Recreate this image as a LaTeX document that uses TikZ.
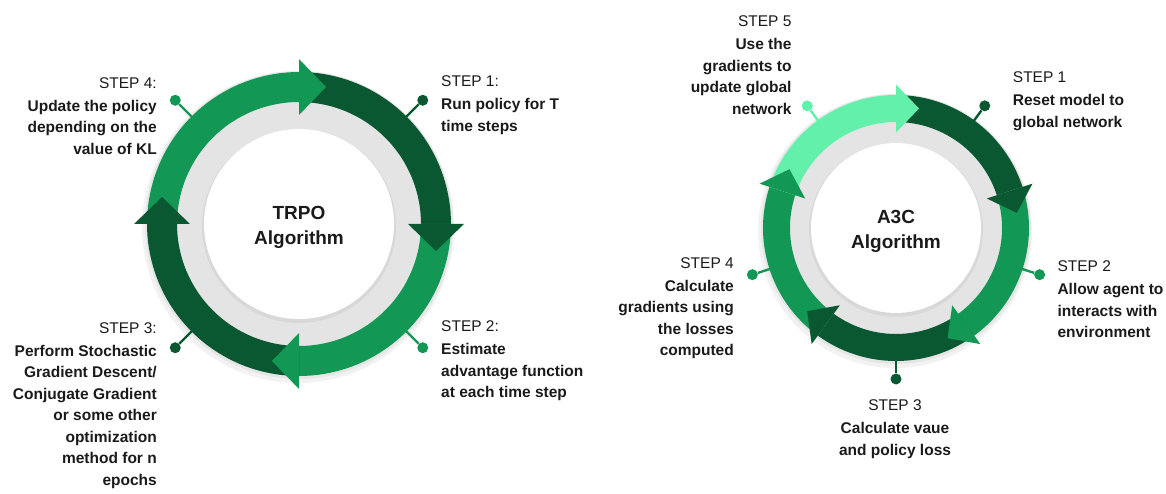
\documentclass[tikz,border=0pt]{standalone}
\usepackage{fontspec}
\setmainfont{Liberation Sans}
\usetikzlibrary{calc}

\definecolor{dkgreen}{HTML}{0A5832}
\definecolor{mdgreen}{HTML}{129854}
\definecolor{mintgreen}{HTML}{62F0AA}
\definecolor{ringgray}{HTML}{E4E4E4}
\definecolor{txtblack}{HTML}{1A1A1A}

\tikzset {
    steptxt/.style={inner sep=0pt, text=txtblack, font=\fontsize{15.5}{21.5}\selectfont\bfseries},
    algtxt/.style={inner sep=0pt, text=txtblack, align=center, font=\fontsize{19}{25}\selectfont\bfseries},
    pindot/.style={circle, inner sep=0pt, minimum size=11pt},
    pinline/.style={line width=2.4pt},
}

% ring piece: center, inner r, outer r, from, to, colour
\newcommand{\ringseg}[6]{%
    \begin{scope}[shift={(#1)}]
        \fill [#6] plot [domain=#4:#5, samples=40] (\x:#3)
            -- plot [domain=#5:#4, samples=40] (\x:#2) -- cycle;
    \end{scope}}
% arrow head: center, mid r, angle, half width, length, colour
\newcommand{\ringhead}[6]{%
    \begin{scope}[shift={(#1)}]
        \fill [#6] (#3:#2-#4) -- (#3:#2+#4) -- ($(#3:#2)+(#3+90:#5)$) -- cycle;
    \end{scope}}

\begin{document}
\begin{tikzpicture}[x=1pt, y=-1pt]
    \useasboundingbox (0, 0) rectangle (1166, 494);
    \coordinate (trpo) at (299, 224);
    \coordinate (a3c) at (896, 228);

    % TRPO
    \fill [black, opacity=.05] ($(trpo)+(-1, 3)$) circle (156);
    \fill [black, opacity=.05] ($(trpo)+(0, 1)$) circle (154);
    \fill [ringgray] (trpo) circle (122);
    \fill [black, opacity=.05] ($(trpo)+(0, 2)$) circle (97);
    \fill [white] (trpo) circle (95);
    \ringseg{trpo}{122}{152}{180}{270}{mdgreen}
    \ringseg{trpo}{122}{152}{-90}{0}{dkgreen}
    \ringseg{trpo}{122}{152}{0}{90}{mdgreen}
    \ringseg{trpo}{122}{152}{90}{180}{dkgreen}
    \ringhead{trpo}{137}{270}{28}{27}{mdgreen}
    \ringhead{trpo}{137}{0}{28}{27}{dkgreen}
    \ringhead{trpo}{137}{90}{28}{27}{mdgreen}
    \ringhead{trpo}{137}{180}{28}{27}{dkgreen}
    \node at (299, 206.4) [algtxt, anchor=north] (trponame) {TRPO\\Algorithm};

    \coordinate (p1e) at ($(trpo)+(-45:150)$);
    \coordinate (p2e) at ($(trpo)+(45:150)$);
    \coordinate (p3e) at ($(trpo)+(135:150)$);
    \coordinate (p4e) at ($(trpo)+(225:150)$);
    \node at ($(trpo)+(-45:175)$) [pindot, fill=dkgreen] (p1) {};
    \node at ($(trpo)+(45:175)$) [pindot, fill=mdgreen] (p2) {};
    \node at ($(trpo)+(135:175)$) [pindot, fill=dkgreen] (p3) {};
    \node at ($(trpo)+(225:175)$) [pindot, fill=mdgreen] (p4) {};
    \draw [pinline, dkgreen] (p1e) -- (p1);
    \draw [pinline, mdgreen] (p2e) -- (p2);
    \draw [pinline, dkgreen] (p3e) -- (p3);
    \draw [pinline, mdgreen] (p4e) -- (p4);

    \node at (441, 75.6) [steptxt, anchor=north west, align=left] (s1)
        {{\mdseries STEP 1:}\\[1.5pt]Run policy for T\\time steps};
    \node at (441, 320.6) [steptxt, anchor=north west, align=left] (s2)
        {{\mdseries STEP 2:}\\[1.5pt]Estimate\\advantage function\\at each time step};
    \node at (157, 322.2) [steptxt, anchor=north east, align=right] (s3)
        {{\mdseries STEP 3:}\\[1.5pt]Perform Stochastic\\Gradient Descent/\\Conjugate Gradient\\or some other\\optimization\\method for n\\epochs};
    \node at (157, 77.2) [steptxt, anchor=north east, align=right] (s4)
        {{\mdseries STEP 4:}\\[1.5pt]Update the policy\\depending on the\\value of KL};

    % A3C
    \fill [black, opacity=.05] ($(a3c)+(-1, 3)$) circle (137);
    \fill [black, opacity=.05] ($(a3c)+(0, 1)$) circle (135);
    \fill [ringgray] (a3c) circle (106);
    \fill [black, opacity=.05] ($(a3c)+(0, 2)$) circle (87);
    \fill [white] (a3c) circle (85);
    \ringseg{a3c}{106}{133}{-90}{-18}{dkgreen}
    \ringseg{a3c}{106}{133}{-18}{54}{mdgreen}
    \ringseg{a3c}{106}{133}{54}{126}{dkgreen}
    \ringseg{a3c}{106}{133}{126}{198}{mdgreen}
    \ringseg{a3c}{106}{133}{198}{270}{mintgreen}
    \ringhead{a3c}{119.5}{-18}{24}{23}{dkgreen}
    \ringhead{a3c}{119.5}{54}{24}{23}{mdgreen}
    \ringhead{a3c}{119.5}{126}{24}{23}{dkgreen}
    \ringhead{a3c}{119.5}{198}{24}{23}{mdgreen}
    \ringhead{a3c}{119.5}{270}{24}{23}{mintgreen}
    \node at (896, 209.7) [algtxt, anchor=north] (a3cname) {A3C\\Algorithm};

    \coordinate (q1e) at ($(a3c)+(-54:131)$);
    \coordinate (q2e) at ($(a3c)+(18:131)$);
    \coordinate (q3e) at ($(a3c)+(90:131)$);
    \coordinate (q4e) at ($(a3c)+(162:131)$);
    \coordinate (q5e) at ($(a3c)+(234:131)$);
    \node at ($(a3c)+(-54:151)$) [pindot, fill=dkgreen] (q1) {};
    \node at ($(a3c)+(18:151)$) [pindot, fill=mdgreen] (q2) {};
    \node at ($(a3c)+(90:151)$) [pindot, fill=dkgreen] (q3) {};
    \node at ($(a3c)+(162:151)$) [pindot, fill=mdgreen] (q4) {};
    \node at ($(a3c)+(234:151)$) [pindot, fill=mintgreen] (q5) {};
    \draw [pinline, dkgreen] (q1e) -- (q1);
    \draw [pinline, mdgreen] (q2e) -- (q2);
    \draw [pinline, dkgreen] (q3e) -- (q3);
    \draw [pinline, mdgreen] (q4e) -- (q4);
    \draw [pinline, mintgreen] (q5e) -- (q5);

    \node at (1012.7, 71.6) [steptxt, anchor=north west, align=left] (t1)
        {{\mdseries STEP 1}\\[1.5pt]Reset model to\\global network};
    \node at (1057.3, 260.6) [steptxt, anchor=north west, align=left] (t2)
        {{\mdseries STEP 2}\\[1.5pt]Allow agent to\\interacts with\\environment};
    \node at (895, 399.6) [steptxt, anchor=north, align=center] (t3)
        {{\mdseries STEP 3}\\[1.5pt]Calculate vaue\\and policy loss};
    \node at (734, 257.2) [steptxt, anchor=north east, align=right] (t4)
        {{\mdseries STEP 4}\\[1.5pt]Calculate\\gradients using\\the losses\\computed};
    \node at (791.7, 15.6) [steptxt, anchor=north east, align=right] (t5)
        {{\mdseries STEP 5}\\[1.5pt]Use the\\gradients to\\update global\\network};
\end{tikzpicture}
\end{document}
